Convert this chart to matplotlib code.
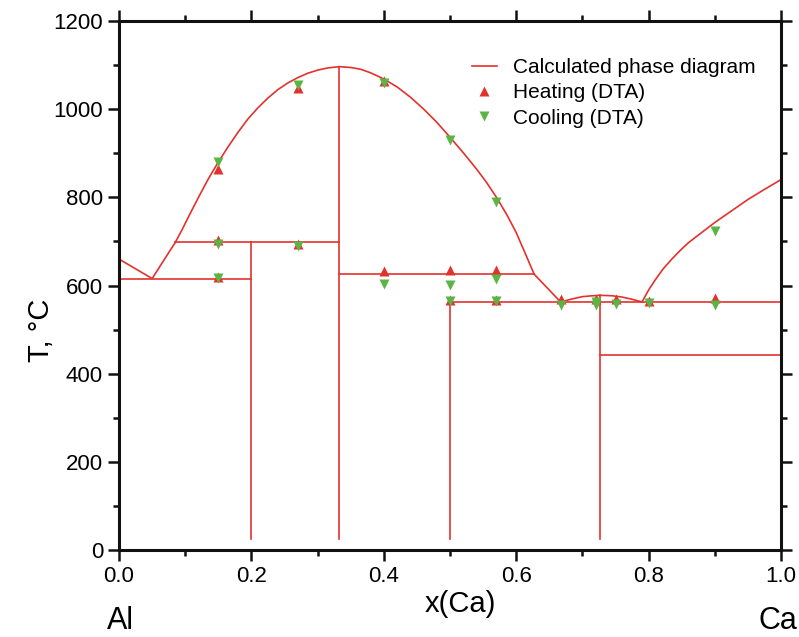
import numpy as np
import matplotlib.pyplot as plt
from matplotlib.ticker import MultipleLocator

plt.rcParams['font.family'] = ['Liberation Sans', 'DejaVu Sans']

# calculated phase diagram
liq_al_x = [0.0, 0.05, 0.085]
liq_al_T = [660, 616, 698]
dome_x = [0.085, 0.095, 0.107, 0.12, 0.135, 0.15, 0.165, 0.18, 0.195, 0.21,
          0.225, 0.24, 0.255, 0.27, 0.285, 0.30, 0.315, 0.333,
          0.35, 0.365, 0.38, 0.40, 0.42, 0.44, 0.46, 0.48, 0.50, 0.52,
          0.54, 0.555, 0.571, 0.586, 0.60, 0.613, 0.627]
dome_T = [698, 726, 762, 800, 842, 880, 915, 948, 978, 1003,
          1025, 1044, 1059, 1071, 1081, 1088, 1093, 1096,
          1094, 1090, 1082, 1068, 1050, 1027, 1000, 970, 936, 901,
          864, 834, 798, 760, 720, 675, 626]
liq_mid_x = [0.627, 0.667]
liq_mid_T = [626, 563]
small_dome_x = [0.667, 0.685, 0.70, 0.715, 0.727, 0.745, 0.76, 0.775, 0.79]
small_dome_T = [563, 570, 575, 577, 578, 577, 574, 569, 563]
liq_ca_x = [0.79, 0.80, 0.81, 0.822, 0.835, 0.848, 0.86, 0.88, 0.90,
            0.925, 0.95, 0.975, 1.0]
liq_ca_T = [563, 590, 613, 638, 660, 680, 697, 720, 743,
            769, 795, 818, 840]

# invariant lines: (x_start, x_end, T)
horiz = [(0.0, 0.2, 616), (0.085, 0.333, 698), (0.333, 0.627, 626),
         (0.5, 1.0, 562), (0.727, 1.0, 443)]
# compounds: (x, T_bottom, T_top)
vert = [(0.2, 25, 698), (0.333, 25, 1096), (0.5, 25, 562), (0.727, 25, 578)]

# DTA data
heat_x = [0.15, 0.15, 0.15, 0.27, 0.27, 0.40, 0.40, 0.50, 0.50, 0.57, 0.57,
          0.667, 0.72, 0.75, 0.80, 0.90]
heat_T = [863, 703, 619, 1047, 694, 1064, 634, 635, 567, 635, 567,
          570, 570, 570, 565, 572]
cool_x = [0.15, 0.15, 0.15, 0.27, 0.27, 0.40, 0.40, 0.50, 0.50, 0.50, 0.57,
          0.57, 0.57, 0.667, 0.72, 0.72, 0.75, 0.80, 0.90, 0.90]
cool_T = [881, 694, 617, 1054, 690, 1060, 604, 930, 601, 565, 790,
          615, 565, 556, 562, 555, 558, 560, 723, 556]

red = '#e3312d'
green = '#5bb544'

fig = plt.figure(figsize=(7.99, 6.37), dpi=100)
ax = fig.add_axes([0.149, 0.1358, 0.8285, 0.8317])

lw = 1.2
ax.plot(liq_al_x, liq_al_T, color=red, lw=lw, label='Calculated phase diagram')
ax.plot(dome_x, dome_T, color=red, lw=lw)
ax.plot(liq_mid_x, liq_mid_T, color=red, lw=lw)
ax.plot(small_dome_x, small_dome_T, color=red, lw=lw)
ax.plot(liq_ca_x, liq_ca_T, color=red, lw=lw)
for x0, x1, t in horiz:
    ax.plot([x0, x1], [t, t], color=red, lw=lw)
for x, t0, t1 in vert:
    ax.plot([x, x], [t0, t1], color=red, lw=lw)

ax.plot(heat_x, heat_T, ls='none', marker='^', ms=7.5, color=red,
        mec='none', label='Heating (DTA)')
ax.plot(cool_x, cool_T, ls='none', marker='v', ms=7.5, color=green,
        mec='none', label='Cooling (DTA)')

ax.set_xlim(0, 1)
ax.set_ylim(0, 1200)
ax.xaxis.set_major_locator(MultipleLocator(0.2))
ax.xaxis.set_minor_locator(MultipleLocator(0.1))
ax.yaxis.set_major_locator(MultipleLocator(200))
ax.yaxis.set_minor_locator(MultipleLocator(100))
ax.xaxis.set_major_formatter(plt.FuncFormatter(lambda v, p: '%.1f' % v))
ax.tick_params(which='both', direction='out', top=True, right=True,
               width=1.8, labelsize=16, color='#111111')
ax.tick_params(which='major', length=8)
ax.tick_params(which='minor', length=4.5)
for s in ax.spines.values():
    s.set_linewidth(2.2)
    s.set_color('#111111')

ax.set_xlabel('x(Ca)', fontsize=21)
ax.xaxis.set_label_coords(0.515, -0.075)
ax.set_ylabel('T, °C', fontsize=21)
ax.yaxis.set_label_coords(-0.097, 0.415)

fig.text(107 / 799, 1 - 629 / 637, 'Al', fontsize=22, ha='left', va='baseline')
fig.text(797 / 799, 1 - 629 / 637, 'Ca', fontsize=22, ha='right', va='baseline')

ax.legend(loc='upper left', bbox_to_anchor=(0.52, 0.945), frameon=False,
          fontsize=15, handlelength=1.2, handletextpad=0.8, labelspacing=0.3,
          borderaxespad=0)

fig.savefig('out.png', dpi=100)
